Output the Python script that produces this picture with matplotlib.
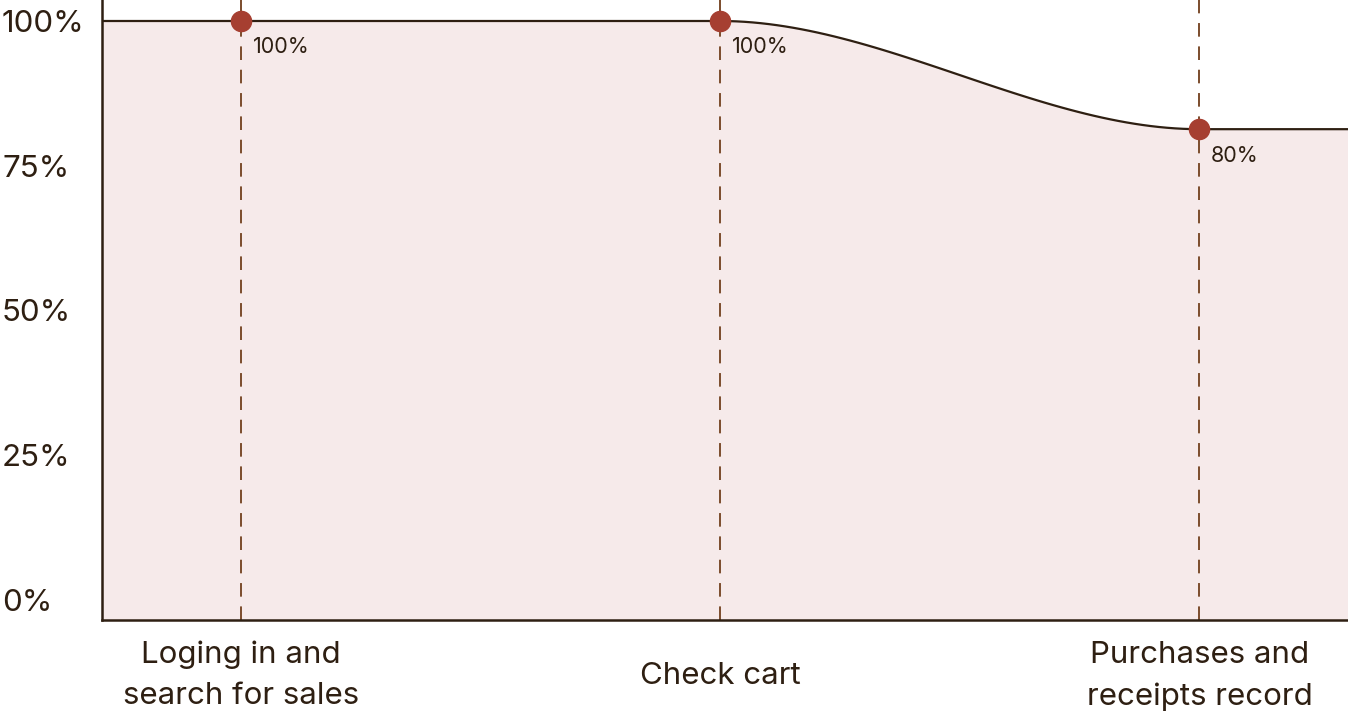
import numpy as np
import matplotlib
matplotlib.use("Agg")
import matplotlib.pyplot as plt

# data
stages = ["Loging in and\nsearch for sales", "Check cart", "Purchases and\nreceipts record"]
values = [100, 100, 81.3]
value_labels = ["100%", "100%", "80%"]
y_ticks = [0, 25, 50, 75, 100]
y_tick_labels = ["0%", "25%", "50%", "75%", "100%"]

DARK = "#2e1f12"
FILL = "#f6eaea"
DOT = "#a63f31"
DASH = "#7b4c2c"

plt.rcParams["font.family"] = ["Inter", "DejaVu Sans"]

fig = plt.figure(figsize=(13.48, 7.19), dpi=100)
ax = fig.add_axes([0.0757, 0.1377, 0.9243, 0.8623])

x = np.arange(len(values))
x_min, x_max = -0.29, 2.31

# smooth curve: flat ends, smoothstep between points
xs = [x_min]
ys = [values[0]]
for i in range(len(values) - 1):
    t = np.linspace(0, 1, 60)
    s = 3 * t**2 - 2 * t**3
    xs.extend(x[i] + t * (x[i + 1] - x[i]))
    ys.extend(values[i] + s * (values[i + 1] - values[i]))
xs.append(x_max)
ys.append(values[-1])
xs = np.array(xs)
ys = np.array(ys)

ax.fill_between(xs, ys, -10, color=FILL, zorder=1, linewidth=0)
ax.plot(xs, ys, color=DARK, linewidth=1.6, zorder=3)

for xi in x:
    ax.axvline(xi, color=DASH, linewidth=1.4, linestyle=(0, (7, 5)), zorder=2)

ax.plot(x, values, "o", color=DOT, markersize=14.5, zorder=4)

for xi, v, lab in zip(x, values, value_labels):
    ax.annotate(lab, (xi, v), xytext=(8.5, -19), textcoords="offset points",
                ha="left", va="center", fontsize=15.5, color=DARK, zorder=5)

ax.set_xlim(x_min, x_max)
ax.set_ylim(-3.54, 103.63)

ax.set_yticks(y_ticks)
ax.set_yticklabels(y_tick_labels, fontsize=22.5, color=DARK, ha="left")
ax.tick_params(axis="y", length=0, pad=72)

ax.set_xticks(x)
ax.set_xticklabels(stages, fontsize=22.5, color=DARK, va="center", linespacing=1.6)
ax.tick_params(axis="x", length=0, pad=40)

for side in ["top", "right"]:
    ax.spines[side].set_visible(False)
for side in ["left", "bottom"]:
    ax.spines[side].set_color(DARK)
    ax.spines[side].set_linewidth(1.8)
    ax.spines[side].set_zorder(6)

fig.savefig("out.png", dpi=100)
